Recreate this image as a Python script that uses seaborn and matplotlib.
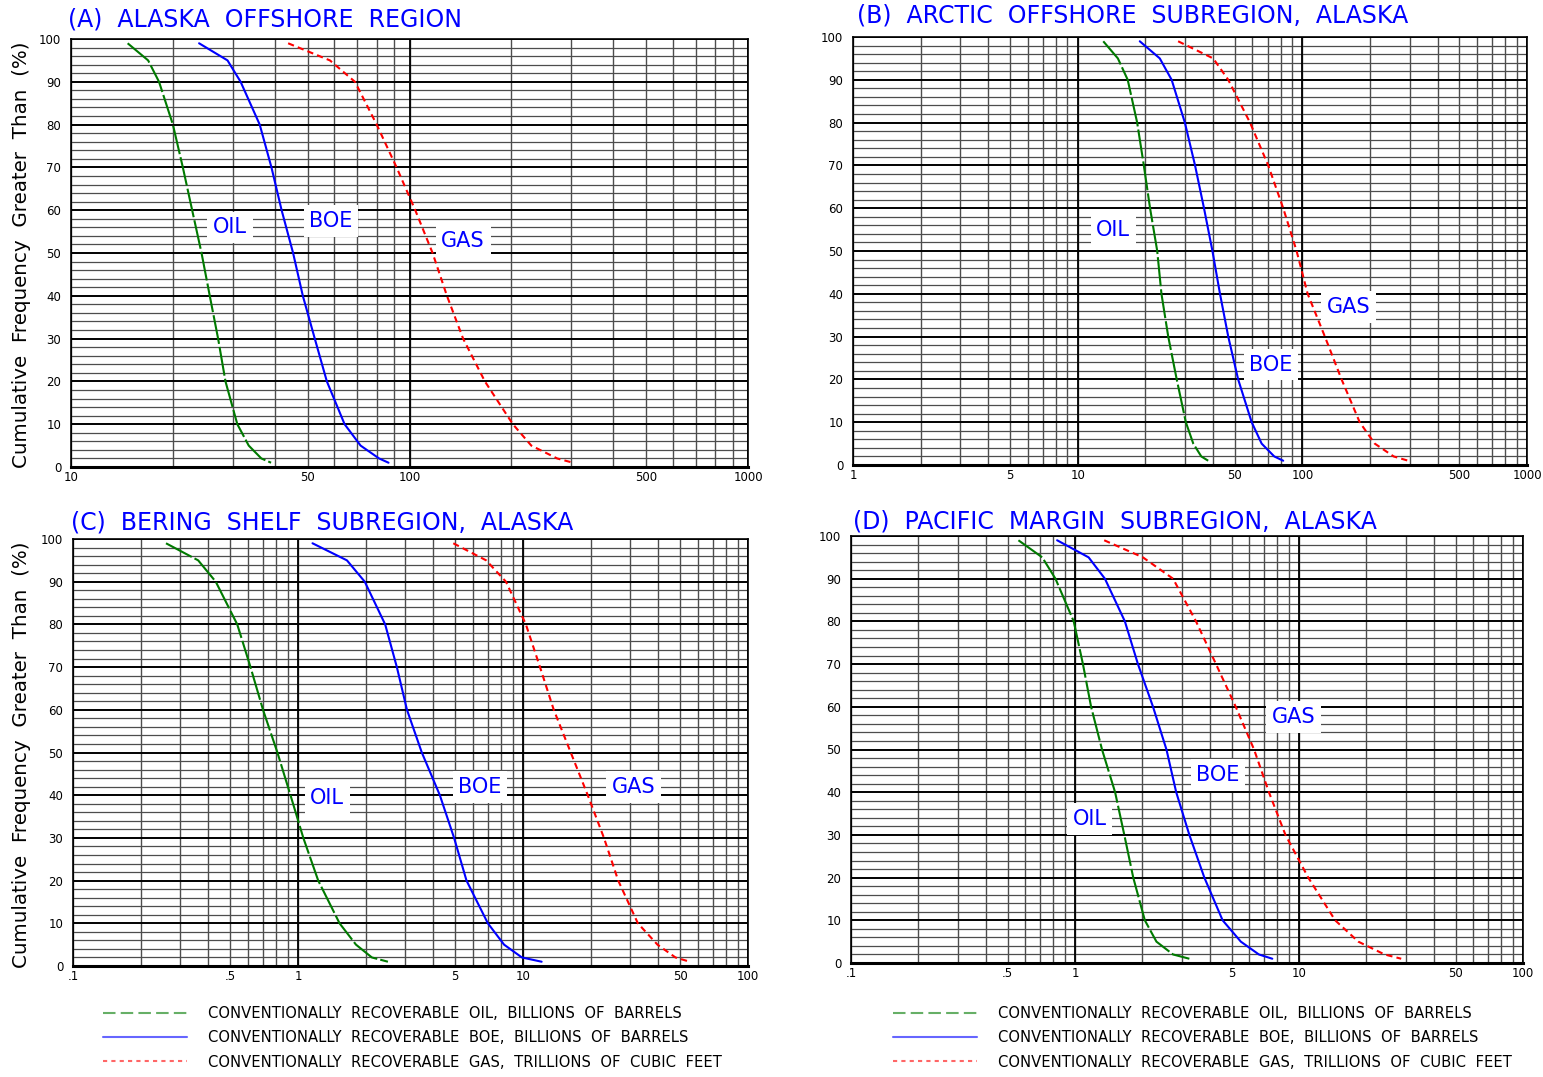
import numpy as np
import pandas as pd
import matplotlib
matplotlib.use("Agg")
import matplotlib.pyplot as plt
import seaborn as sns
from matplotlib.lines import Line2D
from matplotlib.ticker import FixedLocator, NullFormatter

sns.set_style("white")
plt.rcParams['font.family'] = ['DejaVu Sans']
plt.rcParams['text.color'] = 'black'
plt.rcParams['xtick.color'] = 'black'
plt.rcParams['ytick.color'] = 'black'

pct = [99, 95, 90, 80, 70, 60, 50, 40, 30, 20, 10, 5, 2, 1]

# (A) Alaska offshore region
a_oil = [14.7, 16.9, 18.2, 20.0, 21.4, 22.8, 24.3, 25.7, 27.2, 28.6, 31.0, 33.5, 36.5, 39.0]
a_boe = [23.9, 29.0, 31.7, 36.1, 39.1, 41.9, 45.3, 48.4, 52.5, 57.0, 64.3, 71.7, 81.3, 86.7]
a_gas = [43.8, 58.2, 69.0, 80.0, 91.6, 104, 117, 129, 144, 167, 202, 229, 273, 304]

# (B) Arctic offshore subregion
b_oil = [13.0, 15.1, 16.7, 18.4, 19.7, 21.0, 22.6, 23.6, 25.3, 27.6, 30.3, 32.7, 35.5, 38.1]
b_boe = [18.9, 23.2, 26.2, 30.0, 33.3, 36.5, 39.8, 43.0, 46.8, 51.8, 59.5, 65.9, 75.0, 82.2]
b_gas = [28.0, 40.1, 46.8, 58.5, 70.5, 82.2, 94.3, 105.6, 126, 149.5, 180, 210, 255, 296]

# (C) Bering shelf subregion
c_oil = [0.259, 0.36, 0.431, 0.537, 0.615, 0.699, 0.81, 0.926, 1.056, 1.23, 1.53, 1.81, 2.13, 2.51]
c_boe = [1.16, 1.65, 1.98, 2.44, 2.75, 3.05, 3.55, 4.27, 4.94, 5.61, 6.98, 8.24, 9.89, 12.1]
c_gas = [4.9, 6.86, 8.4, 10.3, 11.9, 13.7, 16.3, 19.4, 22.9, 26.5, 32.4, 39.6, 47.6, 55.1]

# (D) Pacific margin subregion
d_oil = [0.559, 0.714, 0.818, 0.987, 1.085, 1.18, 1.32, 1.51, 1.66, 1.82, 2.05, 2.31, 2.74, 3.24]
d_boe = [0.832, 1.15, 1.36, 1.67, 1.91, 2.23, 2.56, 2.83, 3.24, 3.78, 4.56, 5.5, 6.62, 7.6]
d_gas = [1.35, 2.01, 2.74, 3.47, 4.26, 5.22, 6.3, 7.34, 8.7, 11.0, 14.5, 18.4, 24.1, 28.6]

titles = ["(A)  ALASKA  OFFSHORE  REGION",
          "(B)  ARCTIC  OFFSHORE  SUBREGION,  ALASKA",
          "(C)  BERING  SHELF  SUBREGION,  ALASKA",
          "(D)  PACIFIC  MARGIN  SUBREGION,  ALASKA"]
xlims = [(10, 1000), (1, 1000), (0.1, 100), (0.1, 100)]
xticks = [[10, 50, 100, 500, 1000],
          [1, 5, 10, 50, 100, 500, 1000],
          [0.1, 0.5, 1, 5, 10, 50, 100],
          [0.1, 0.5, 1, 5, 10, 50, 100]]
xticklabels = [["10", "50", "100", "500", "1000"],
               ["1", "5", "10", "50", "100", "500", "1000"],
               [".1", ".5", "1", "5", "10", "50", "100"],
               [".1", ".5", "1", "5", "10", "50", "100"]]
series = [(a_oil, a_boe, a_gas), (b_oil, b_boe, b_gas),
          (c_oil, c_boe, c_gas), (d_oil, d_boe, d_gas)]
# curve label anchors (value, percent) for OIL, BOE, GAS
label_pos = [[(29.5, 56), (58.6, 57.5), (144, 52.8)],
             [(14.4, 55), (72.5, 23.4), (161, 36.9)],
             [(1.35, 39.3), (6.44, 41.9), (31.1, 41.9)],
             [(1.16, 33.7), (4.35, 44), (9.46, 57.6)]]
names = ["OIL", "BOE", "GAS"]
colors = ["#007a00", "#0000ff", "#ff0000"]
styles = [(0, (14, 1.5)), "-", (0, (3, 2))]

W, H = 1543, 1077
boxes = [(71, 748, 39, 467), (853, 1527, 37, 465),
         (73, 748, 539, 966), (851, 1523, 536, 963)]
title_xy = [(68, 20), (857, 16), (71, 523), (853, 521)]
legend_x = [100, 890]

fig = plt.figure(figsize=(W / 100, H / 100), dpi=100)

for i in range(4):
    l, r, t, b = boxes[i]
    ax = fig.add_axes([l / W, 1 - b / H, (r - l) / W, (b - t) / H])
    for vals, nm, c, ls in zip(series[i], names, colors, styles):
        df = pd.DataFrame({"value": vals, "pct": pct})
        sns.lineplot(data=df, x="value", y="pct", sort=False, estimator=None,
                     color=c, linestyle=ls, lw=1.5, ax=ax, zorder=5)
    ax.set_xscale("log")
    ax.set_xlim(*xlims[i])
    ax.set_ylim(0, 100)

    lo, hi = xlims[i]
    decades = 10.0 ** np.arange(np.log10(lo), np.log10(hi) + 0.5)
    allx = sorted(set(np.round(np.concatenate([d * np.arange(1, 10) for d in decades[:-1]] + [[hi]]), 6)))
    minor_x = [v for v in allx if not any(np.isclose(v, xticks[i]))]
    ax.xaxis.set_major_locator(FixedLocator(xticks[i]))
    ax.xaxis.set_minor_locator(FixedLocator(minor_x))
    ax.xaxis.set_minor_formatter(NullFormatter())
    ax.set_xticklabels(xticklabels[i])
    ax.set_yticks(range(0, 101, 10))
    ax.set_yticks(range(0, 101, 2), minor=True)

    ax.grid(which="both", axis="x", color="0.3", lw=1.0)
    ax.grid(which="major", axis="y", color="black", lw=1.4)
    ax.grid(which="minor", axis="y", color="0.3", lw=0.9)
    for d in decades:
        ax.axvline(d, color="black", lw=1.3, zorder=1)
    ax.set_axisbelow(True)

    ax.tick_params(axis="x", which="both", length=0, labelsize=8.5, pad=3)
    ax.tick_params(axis="y", which="major", direction="out", length=5, labelsize=8.5, pad=2)
    ax.tick_params(axis="y", which="minor", direction="out", length=3)
    for s in ax.spines.values():
        s.set_color("black")
        s.set_linewidth(1.2)
    ax.spines["bottom"].set_linewidth(2.2)
    ax.set_xlabel("")
    ax.set_ylabel("")

    for (lx, ly), nm in zip(label_pos[i], names):
        ax.text(lx, ly, nm, color="#0000ff", fontsize=15, ha="center", va="center", zorder=6,
                bbox=dict(facecolor="white", edgecolor="none", pad=4))

    tx, ty = title_xy[i]
    fig.text(tx / W, 1 - ty / H, titles[i], color="#0000ff", fontsize=17, ha="left", va="center")

    if i >= 2:
        handles = [Line2D([], [], color=c, ls=ls, lw=1.5, alpha=0.6)
                   for c, ls in zip(colors, [(0, (6, 2.5)), "-", (0, (2, 2))])]
        labs = ["CONVENTIONALLY  RECOVERABLE  OIL,  BILLIONS  OF  BARRELS",
                "CONVENTIONALLY  RECOVERABLE  BOE,  BILLIONS  OF  BARRELS",
                "CONVENTIONALLY  RECOVERABLE  GAS,  TRILLIONS  OF  CUBIC  FEET"]
        fig.legend(handles, labs, loc="upper left", frameon=False, fontsize=10.6,
                   bbox_to_anchor=((legend_x[i - 2] - 10) / W, 1 - 993 / H),
                   handlelength=5.7, handletextpad=1.4, labelspacing=0.62,
                   borderpad=0.4, labelcolor="black")

for yc in (255, 755):
    fig.text(22 / W, 1 - yc / H, "Cumulative  Frequency  Greater  Than  (%)",
             rotation=90, fontsize=14.3, ha="center", va="center", color="black")

fig.savefig("out.png", dpi=100)
